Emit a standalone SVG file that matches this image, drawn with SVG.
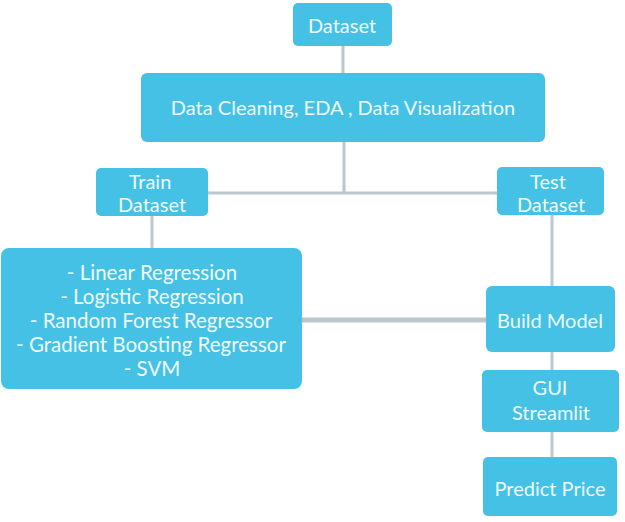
<svg xmlns="http://www.w3.org/2000/svg" width="625" height="522" viewBox="0 0 625 522">
<style>
.box{fill:#44C1E5;}
.t{font-family:Lato,"Liberation Sans",sans-serif;font-size:20px;fill:#EEFBFF;text-anchor:middle;dominant-baseline:central;}
.a{font-size:20.5px;}
.ln{stroke:#BCC6CD;stroke-width:3;fill:none;}
</style>
<rect width="625" height="522" fill="#FFFFFF"/>
<g id="connectors">
<line class="ln" x1="343" y1="46" x2="343" y2="74"/>
<line class="ln" x1="344" y1="142" x2="344" y2="194"/>
<line class="ln" x1="207" y1="193" x2="498" y2="193"/>
<line class="ln" x1="152" y1="216" x2="152" y2="249"/>
<line class="ln" x1="552" y1="214" x2="552" y2="287"/>
<line class="ln" x1="301" y1="320" x2="487" y2="320" style="stroke-width:5"/>
<line class="ln" x1="552" y1="351" x2="552" y2="371"/>
<line class="ln" x1="552" y1="431" x2="552" y2="458"/>
</g>
<g id="dataset">
<rect class="box" x="293" y="3" width="99" height="43" rx="5"/>
<text class="t" x="342" y="25">Dataset</text>
</g>
<g id="cleaning">
<rect class="box" x="141" y="73" width="404" height="69" rx="6"/>
<text class="t" x="343" y="107">Data Cleaning, EDA , Data Visualization</text>
</g>
<g id="train">
<rect class="box" x="96" y="168" width="112" height="48" rx="5"/>
<text class="t" x="150" y="181">Train</text>
<text class="t" x="152" y="204">Dataset</text>
</g>
<g id="test">
<rect class="box" x="497" y="167" width="107" height="48" rx="5"/>
<text class="t" x="548" y="181">Test</text>
<text class="t" x="551" y="204">Dataset</text>
</g>
<g id="algorithms">
<rect class="box" x="1" y="248" width="301" height="141" rx="8"/>
<text class="t a" x="152" y="272">- Linear Regression</text>
<text class="t a" x="152" y="296">- Logistic Regression</text>
<text class="t a" x="151" y="320">- Random Forest Regressor</text>
<text class="t a" x="151" y="344">- Gradient Boosting Regressor</text>
<text class="t a" x="152" y="368">-  SVM</text>
</g>
<g id="build">
<rect class="box" x="486" y="286" width="129" height="66" rx="6"/>
<text class="t" x="550" y="320">Build Model</text>
</g>
<g id="gui">
<rect class="box" x="482" y="370" width="137" height="62" rx="5"/>
<text class="t" x="550" y="387">GUI</text>
<text class="t" x="551" y="412">Streamlit</text>
</g>
<g id="predict">
<rect class="box" x="483" y="457" width="134" height="59" rx="5"/>
<text class="t" x="550" y="488">Predict Price</text>
</g>
</svg>
